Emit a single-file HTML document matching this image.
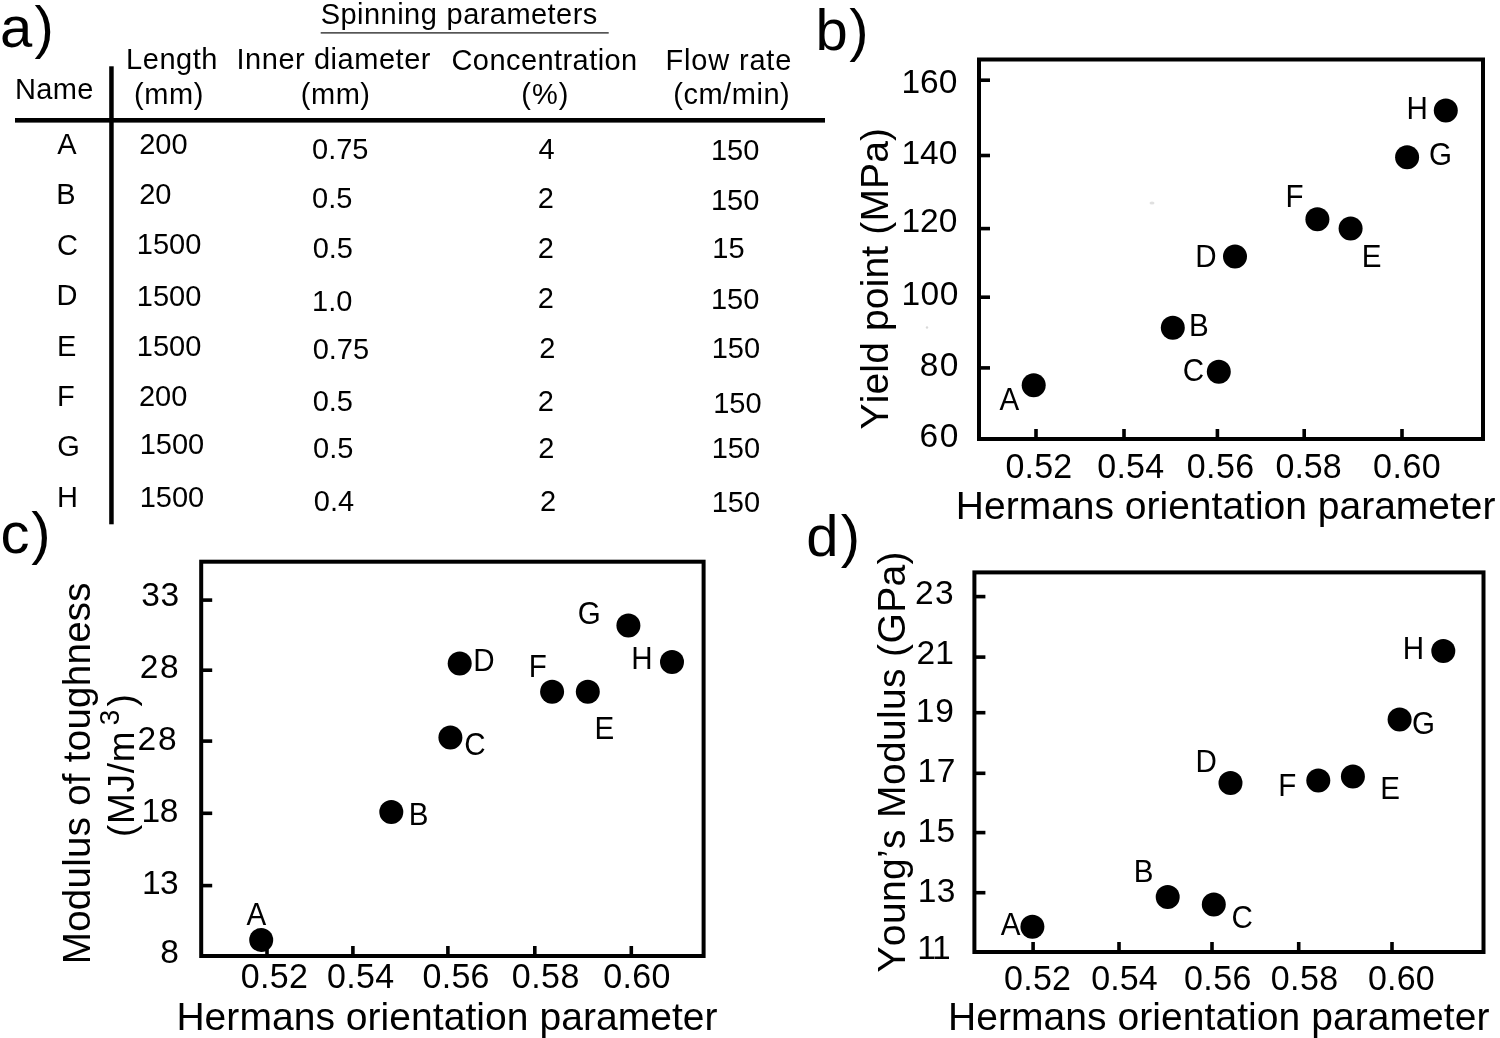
<!DOCTYPE html>
<html><head><meta charset="utf-8"><style>
html,body{margin:0;padding:0;background:#fff;}
svg{display:block;will-change:transform;}
text{font-family:"Liberation Sans",sans-serif;fill:#000;font-kerning:none;}
</style></head><body>
<svg width="1500" height="1038" viewBox="0 0 1500 1038">
<rect width="1500" height="1038" fill="#fff"/>
<text x="0.10" y="46.80" font-size="58" letter-spacing="2.10">a)</text>
<text x="815.50" y="50.20" font-size="58" letter-spacing="1.50">b)</text>
<text x="0.40" y="552.70" font-size="58" letter-spacing="1.90">c)</text>
<text x="806.20" y="555.60" font-size="58" letter-spacing="2.40">d)</text>
<text x="320.70" y="23.80" font-size="29" letter-spacing="0.47">Spinning</text>
<text x="446.60" y="23.80" font-size="29" letter-spacing="0.44">parameters</text>
<rect x="320.7" y="32" width="288" height="1.7" fill="#555"/>
<text x="15.10" y="99.20" font-size="29" letter-spacing="0.30">Name</text>
<text x="126.10" y="69.20" font-size="29" letter-spacing="0.54">Length</text>
<text x="134.00" y="104.00" font-size="29" letter-spacing="0.60">(mm)</text>
<text x="236.50" y="69.20" font-size="29" letter-spacing="0.54">Inner diameter</text>
<text x="300.70" y="104.00" font-size="29" letter-spacing="0.57">(mm)</text>
<text x="451.50" y="69.70" font-size="29" letter-spacing="0.43">Concentration</text>
<text x="521.20" y="104.00" font-size="29" letter-spacing="1.10">(%)</text>
<text x="665.60" y="69.60" font-size="29" letter-spacing="0.81">Flow rate</text>
<text x="673.20" y="104.00" font-size="29" letter-spacing="0.54">(cm/min)</text>
<rect x="15" y="118" width="810" height="4.6" fill="#000"/>
<rect x="109.2" y="66.3" width="4.5" height="458" fill="#000"/>
<text x="57.20" y="153.70" font-size="29">A</text>
<text x="56.30" y="204.30" font-size="29">B</text>
<text x="57.00" y="254.50" font-size="29">C</text>
<text x="56.40" y="305.30" font-size="29">D</text>
<text x="57.10" y="355.50" font-size="29">E</text>
<text x="57.10" y="405.80" font-size="29">F</text>
<text x="57.30" y="456.40" font-size="29">G</text>
<text x="57.10" y="506.60" font-size="29">H</text>
<text x="139.20" y="154.30" font-size="29">200</text>
<text x="139.20" y="204.30" font-size="29">20</text>
<text x="136.80" y="254.00" font-size="29">1500</text>
<text x="136.80" y="306.40" font-size="29">1500</text>
<text x="136.80" y="355.80" font-size="29">1500</text>
<text x="138.90" y="406.10" font-size="29">200</text>
<text x="139.70" y="453.80" font-size="29">1500</text>
<text x="139.70" y="506.60" font-size="29">1500</text>
<text x="312.00" y="159.00" font-size="29">0.75</text>
<text x="312.00" y="208.10" font-size="29">0.5</text>
<text x="312.70" y="257.70" font-size="29">0.5</text>
<text x="312.10" y="310.50" font-size="29">1.0</text>
<text x="312.70" y="359.30" font-size="29">0.75</text>
<text x="312.70" y="410.90" font-size="29">0.5</text>
<text x="313.00" y="458.30" font-size="29">0.5</text>
<text x="313.80" y="510.80" font-size="29">0.4</text>
<text x="538.60" y="159.30" font-size="29">4</text>
<text x="537.80" y="207.90" font-size="29">2</text>
<text x="537.80" y="257.60" font-size="29">2</text>
<text x="537.80" y="308.00" font-size="29">2</text>
<text x="539.30" y="357.60" font-size="29">2</text>
<text x="537.80" y="410.60" font-size="29">2</text>
<text x="538.30" y="458.30" font-size="29">2</text>
<text x="540.10" y="510.80" font-size="29">2</text>
<text x="710.90" y="159.70" font-size="29">150</text>
<text x="710.90" y="209.80" font-size="29">150</text>
<text x="712.30" y="257.60" font-size="29">15</text>
<text x="710.90" y="309.00" font-size="29">150</text>
<text x="711.70" y="357.60" font-size="29">150</text>
<text x="713.20" y="413.40" font-size="29">150</text>
<text x="711.70" y="457.80" font-size="29">150</text>
<text x="711.70" y="511.70" font-size="29">150</text>
<rect x="979" y="59.5" width="504" height="379.5" fill="none" stroke="#000" stroke-width="4"/>
<line x1="979" y1="80.2" x2="990" y2="80.2" stroke="#000" stroke-width="3.6"/><line x1="979" y1="155.5" x2="990" y2="155.5" stroke="#000" stroke-width="3.6"/><line x1="979" y1="228.6" x2="990" y2="228.6" stroke="#000" stroke-width="3.6"/><line x1="979" y1="297.2" x2="990" y2="297.2" stroke="#000" stroke-width="3.6"/><line x1="979" y1="367.9" x2="990" y2="367.9" stroke="#000" stroke-width="3.6"/>
<line x1="1036" y1="439" x2="1036" y2="429" stroke="#000" stroke-width="3.6"/><line x1="1124" y1="439" x2="1124" y2="429" stroke="#000" stroke-width="3.6"/><line x1="1217.4" y1="439" x2="1217.4" y2="429" stroke="#000" stroke-width="3.6"/><line x1="1304.2" y1="439" x2="1304.2" y2="429" stroke="#000" stroke-width="3.6"/><line x1="1402" y1="439" x2="1402" y2="429" stroke="#000" stroke-width="3.6"/>
<text x="901.40" y="92.80" font-size="33.5">160</text>
<text x="901.40" y="164.00" font-size="33.5">140</text>
<text x="901.40" y="232.40" font-size="33.5">120</text>
<text x="901.40" y="304.90" font-size="33.5" letter-spacing="0.50">100</text>
<text x="919.80" y="376.20" font-size="33.5" letter-spacing="1.30">80</text>
<text x="919.60" y="446.50" font-size="33.5" letter-spacing="1.50">60</text>
<text transform="translate(1005.47,477.80) scale(0.95,1)" font-size="35.8" letter-spacing="0.22">0.52</text>
<text transform="translate(1097.37,477.80) scale(0.95,1)" font-size="35.8" letter-spacing="0.20">0.54</text>
<text transform="translate(1186.67,477.80) scale(0.95,1)" font-size="35.8" letter-spacing="0.50">0.56</text>
<text transform="translate(1275.47,477.80) scale(0.95,1)" font-size="35.8">0.58</text>
<text transform="translate(1373.07,477.80) scale(0.95,1)" font-size="35.8" letter-spacing="0.54">0.60</text>
<text x="955.80" y="518.80" font-size="39">Hermans orientation parameter</text>
<text transform="translate(888.2,429.5) rotate(-90)" font-size="39" letter-spacing="0.15">Yield point (MPa)</text>
<circle cx="1033.7" cy="385.3" r="12"/><circle cx="1172.8" cy="327.8" r="12"/><circle cx="1218.8" cy="371.8" r="12"/><circle cx="1235" cy="256.4" r="12"/><circle cx="1350.6" cy="228.5" r="12"/><circle cx="1317.4" cy="219.3" r="12"/><circle cx="1407.1" cy="157.3" r="12"/><circle cx="1445.8" cy="110.6" r="12"/>
<text transform="translate(999.40,409.60) scale(0.97,1)" font-size="30.5">A</text>
<text transform="translate(1188.98,335.90) scale(0.97,1)" font-size="30.5">B</text>
<text transform="translate(1182.64,380.60) scale(0.97,1)" font-size="30.5">C</text>
<text transform="translate(1195.17,266.80) scale(0.97,1)" font-size="30.5">D</text>
<text transform="translate(1361.67,266.50) scale(0.97,1)" font-size="30.5">E</text>
<text transform="translate(1285.38,206.70) scale(0.97,1)" font-size="30.5">F</text>
<text transform="translate(1429.05,165.00) scale(0.97,1)" font-size="30.5">G</text>
<text transform="translate(1406.58,119.00) scale(0.97,1)" font-size="30.5">H</text>
<rect x="201.2" y="561.7" width="502.40000000000003" height="394.29999999999995" fill="none" stroke="#000" stroke-width="4"/>
<line x1="201.2" y1="600.1" x2="212.2" y2="600.1" stroke="#000" stroke-width="3.6"/><line x1="201.2" y1="670.2" x2="212.2" y2="670.2" stroke="#000" stroke-width="3.6"/><line x1="201.2" y1="741.1" x2="212.2" y2="741.1" stroke="#000" stroke-width="3.6"/><line x1="201.2" y1="813.3" x2="212.2" y2="813.3" stroke="#000" stroke-width="3.6"/><line x1="201.2" y1="885.6" x2="212.2" y2="885.6" stroke="#000" stroke-width="3.6"/>
<line x1="267" y1="956" x2="267" y2="946" stroke="#000" stroke-width="3.6"/><line x1="352.9" y1="956" x2="352.9" y2="946" stroke="#000" stroke-width="3.6"/><line x1="447.9" y1="956" x2="447.9" y2="946" stroke="#000" stroke-width="3.6"/><line x1="534.8" y1="956" x2="534.8" y2="946" stroke="#000" stroke-width="3.6"/><line x1="631.3" y1="956" x2="631.3" y2="946" stroke="#000" stroke-width="3.6"/>
<text x="141.20" y="606.20" font-size="33.5" letter-spacing="0.60">33</text>
<text x="139.80" y="677.90" font-size="33.5" letter-spacing="1.60">28</text>
<text x="137.50" y="750.40" font-size="33.5" letter-spacing="1.90">28</text>
<text x="141.50" y="821.60" font-size="33.5" letter-spacing="-0.50">18</text>
<text x="141.90" y="893.70" font-size="33.5" letter-spacing="-0.50">13</text>
<text x="160.30" y="962.70" font-size="33.5">8</text>
<text transform="translate(240.67,988.40) scale(0.95,1)" font-size="35.8" letter-spacing="0.39">0.52</text>
<text transform="translate(327.07,988.40) scale(0.95,1)" font-size="35.8" letter-spacing="0.30">0.54</text>
<text transform="translate(422.57,988.40) scale(0.95,1)" font-size="35.8" letter-spacing="0.26">0.56</text>
<text transform="translate(511.87,988.40) scale(0.95,1)" font-size="35.8" letter-spacing="0.47">0.58</text>
<text transform="translate(603.17,988.40) scale(0.95,1)" font-size="35.8" letter-spacing="0.33">0.60</text>
<text x="176.40" y="1030.30" font-size="39" letter-spacing="0.05">Hermans orientation parameter</text>
<text transform="translate(89.5,964.2) rotate(-90)" font-size="38.5" letter-spacing="0.27">Modulus of toughness</text>
<text transform="translate(134.0,837.0) rotate(-90)" font-size="37" letter-spacing="0.68">(MJ/m</text>
<text transform="translate(119.3,725.3) rotate(-90)" font-size="28">3</text>
<text transform="translate(134.0,706.5) rotate(-90)" font-size="37">)</text>
<circle cx="261.2" cy="940" r="12"/><circle cx="391.3" cy="812.1" r="12"/><circle cx="450.4" cy="737.6" r="12"/><circle cx="459.7" cy="663.6" r="12"/><circle cx="587.8" cy="691.7" r="12"/><circle cx="552.1" cy="691.7" r="12"/><circle cx="628.4" cy="625.4" r="12"/><circle cx="672" cy="662" r="12"/>
<text transform="translate(246.40,924.60) scale(0.97,1)" font-size="30.5">A</text>
<text transform="translate(408.68,825.40) scale(0.97,1)" font-size="30.5">B</text>
<text transform="translate(464.15,754.80) scale(0.97,1)" font-size="30.5">C</text>
<text transform="translate(473.18,671.20) scale(0.97,1)" font-size="30.5">D</text>
<text transform="translate(594.58,739.20) scale(0.97,1)" font-size="30.5">E</text>
<text transform="translate(528.68,677.10) scale(0.97,1)" font-size="30.5">F</text>
<text transform="translate(577.84,623.80) scale(0.97,1)" font-size="30.5">G</text>
<text transform="translate(631.28,668.90) scale(0.97,1)" font-size="30.5">H</text>
<rect x="974.4" y="572.4" width="509.1" height="379.6" fill="none" stroke="#000" stroke-width="4"/>
<line x1="974.4" y1="596.6" x2="985.4" y2="596.6" stroke="#000" stroke-width="3.6"/><line x1="974.4" y1="657.1" x2="985.4" y2="657.1" stroke="#000" stroke-width="3.6"/><line x1="974.4" y1="712.7" x2="985.4" y2="712.7" stroke="#000" stroke-width="3.6"/><line x1="974.4" y1="773.3" x2="985.4" y2="773.3" stroke="#000" stroke-width="3.6"/><line x1="974.4" y1="832.6" x2="985.4" y2="832.6" stroke="#000" stroke-width="3.6"/><line x1="974.4" y1="892.7" x2="985.4" y2="892.7" stroke="#000" stroke-width="3.6"/>
<line x1="1033.1" y1="952" x2="1033.1" y2="942" stroke="#000" stroke-width="3.6"/><line x1="1119" y1="952" x2="1119" y2="942" stroke="#000" stroke-width="3.6"/><line x1="1212" y1="952" x2="1212" y2="942" stroke="#000" stroke-width="3.6"/><line x1="1298.7" y1="952" x2="1298.7" y2="942" stroke="#000" stroke-width="3.6"/><line x1="1392" y1="952" x2="1392" y2="942" stroke="#000" stroke-width="3.6"/>
<text x="915.10" y="604.10" font-size="33.5" letter-spacing="1.40">23</text>
<text x="916.60" y="663.90" font-size="33.5" letter-spacing="0.10">21</text>
<text x="915.70" y="722.20" font-size="33.5" letter-spacing="1.00">19</text>
<text x="917.60" y="782.40" font-size="33.5" letter-spacing="0.50">17</text>
<text x="917.60" y="842.10" font-size="33.5" letter-spacing="0.20">15</text>
<text x="917.80" y="901.80" font-size="33.5" letter-spacing="0.20">13</text>
<text x="917.30" y="958.90" font-size="33.5" letter-spacing="-3.90">11</text>
<text transform="translate(1003.97,990.20) scale(0.95,1)" font-size="35.8" letter-spacing="0.29">0.52</text>
<text transform="translate(1091.37,990.20) scale(0.95,1)" font-size="35.8">0.54</text>
<text transform="translate(1183.97,990.20) scale(0.95,1)" font-size="35.8" letter-spacing="0.43">0.56</text>
<text transform="translate(1270.67,990.20) scale(0.95,1)" font-size="35.8" letter-spacing="0.47">0.58</text>
<text transform="translate(1367.97,990.20) scale(0.95,1)" font-size="35.8" letter-spacing="0.16">0.60</text>
<text x="948.00" y="1030.00" font-size="39" letter-spacing="0.06">Hermans orientation parameter</text>
<text transform="translate(905.0,972.5) rotate(-90)" font-size="39" letter-spacing="0.35">Young’s Modulus (GPa)</text>
<circle cx="1032.4" cy="926.8" r="12"/><circle cx="1167.7" cy="896.9" r="12"/><circle cx="1213.8" cy="904.5" r="12"/><circle cx="1230.5" cy="783.1" r="12"/><circle cx="1352.9" cy="776.5" r="12"/><circle cx="1318.3" cy="780.6" r="12"/><circle cx="1399.6" cy="719.6" r="12"/><circle cx="1443.3" cy="651" r="12"/>
<text transform="translate(1000.80,934.90) scale(0.97,1)" font-size="30.5">A</text>
<text transform="translate(1133.78,881.70) scale(0.97,1)" font-size="30.5">B</text>
<text transform="translate(1231.45,927.90) scale(0.97,1)" font-size="30.5">C</text>
<text transform="translate(1195.48,771.50) scale(0.97,1)" font-size="30.5">D</text>
<text transform="translate(1380.28,798.80) scale(0.97,1)" font-size="30.5">E</text>
<text transform="translate(1278.17,795.70) scale(0.97,1)" font-size="30.5">F</text>
<text transform="translate(1412.05,734.20) scale(0.97,1)" font-size="30.5">G</text>
<text transform="translate(1402.78,658.90) scale(0.97,1)" font-size="30.5">H</text>
<ellipse cx="1152" cy="203" rx="2.5" ry="1.5" fill="#000" opacity="0.12"/><circle cx="927" cy="327.5" r="1.2" fill="#000" opacity="0.15"/>
</svg></body></html>
